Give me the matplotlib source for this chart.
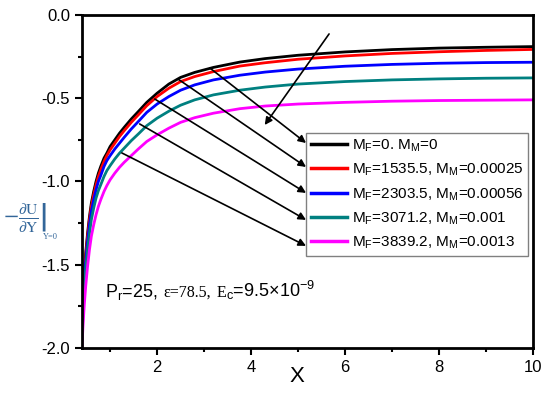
import matplotlib
matplotlib.use("Agg")
import matplotlib.pyplot as plt
from matplotlib.offsetbox import TextArea, HPacker, AnnotationBbox

plt.rcParams['font.family'] = ['Liberation Sans', 'DejaVu Sans']

x = [0.4, 0.42, 0.45, 0.48, 0.52, 0.56, 0.6, 0.65, 0.7, 0.75, 0.8, 0.87, 0.93,
     1.0, 1.1, 1.2, 1.3, 1.45, 1.6, 1.78, 2.0, 2.25, 2.5, 2.8, 3.2, 3.76, 4.3,
     5.0, 6.0, 7.0, 8.0, 9.0, 10.0]
y_black = [-1.88, -1.72, -1.55, -1.43, -1.31, -1.21, -1.13, -1.06, -1.00, -0.95,
           -0.91, -0.86, -0.83, -0.79, -0.75, -0.71, -0.675, -0.625, -0.58, -0.525,
           -0.47, -0.415, -0.375, -0.345, -0.315, -0.283, -0.262, -0.242, -0.222,
           -0.208, -0.199, -0.194, -0.19]
y_red = [-1.90, -1.74, -1.57, -1.45, -1.33, -1.23, -1.15, -1.08, -1.02, -0.97,
         -0.93, -0.88, -0.845, -0.81, -0.77, -0.73, -0.695, -0.645, -0.60, -0.545,
         -0.49, -0.44, -0.40, -0.37, -0.34, -0.307, -0.287, -0.266, -0.246,
         -0.231, -0.221, -0.213, -0.207]
y_blue = [-1.92, -1.77, -1.60, -1.48, -1.36, -1.26, -1.18, -1.11, -1.05, -1.00,
          -0.965, -0.91, -0.875, -0.845, -0.805, -0.77, -0.735, -0.685, -0.64, -0.585,
          -0.535, -0.49, -0.452, -0.42, -0.39, -0.362, -0.343, -0.325, -0.308,
          -0.297, -0.29, -0.286, -0.284]
y_teal = [-1.95, -1.81, -1.65, -1.53, -1.41, -1.31, -1.23, -1.16, -1.10, -1.055,
          -1.02, -0.97, -0.935, -0.905, -0.865, -0.83, -0.80, -0.755, -0.715, -0.665,
          -0.62, -0.578, -0.542, -0.51, -0.48, -0.452, -0.433, -0.415, -0.40,
          -0.39, -0.384, -0.38, -0.378]
y_magenta = [-2.00, -1.88, -1.74, -1.63, -1.51, -1.41, -1.33, -1.26, -1.20, -1.15,
             -1.11, -1.06, -1.025, -0.99, -0.95, -0.915, -0.885, -0.845, -0.805, -0.76,
             -0.72, -0.68, -0.645, -0.617, -0.59, -0.563, -0.547, -0.535, -0.525,
             -0.518, -0.514, -0.512, -0.51]

labels = [r'M$_\mathregular{F}$=0. M$_\mathregular{M}$=0',
          r'M$_\mathregular{F}$=1535.5, M$_\mathregular{M}$=0.00025',
          r'M$_\mathregular{F}$=2303.5, M$_\mathregular{M}$=0.00056',
          r'M$_\mathregular{F}$=3071.2, M$_\mathregular{M}$=0.001',
          r'M$_\mathregular{F}$=3839.2, M$_\mathregular{M}$=0.0013']
colors = ['#000000', '#ff0000', '#0000ff', '#008080', '#ff00ff']
series = [y_black, y_red, y_blue, y_teal, y_magenta]

fig = plt.figure(figsize=(5.5, 3.94), dpi=100)
ax = fig.add_axes([0.149, 0.117, 0.820, 0.845])

for ys, c, lab in zip(series, colors, labels):
    ax.plot(x, ys, color=c, lw=2, label=lab)

ax.set_xlim(0.4, 10)
ax.set_ylim(-2.0, 0.0)
ax.set_xticks([2, 4, 6, 8, 10])
ax.set_xticks([1, 3, 5, 7, 9], minor=True)
ax.set_yticks([-2.0, -1.5, -1.0, -0.5, 0.0])
ax.set_yticklabels(['-2.0', '-1.5', '-1.0', '-0.5', '0.0'])
ax.set_yticks([-1.75, -1.25, -0.75, -0.25], minor=True)
ax.tick_params(which='major', direction='out', length=5, width=1.5, labelsize=12)
ax.tick_params(which='minor', direction='out', length=3, width=1.5)
for s in ax.spines.values():
    s.set_linewidth(2)

fig.text(297 / 550, 1 - 377 / 394, 'X', fontsize=16, ha='center', va='center')

fig.text(25 / 550, 1 - 217 / 394,
         r'$-\left.\frac{\partial \mathrm{U}}{\partial \mathrm{Y}}\right|$',
         fontsize=16, ha='center', va='center', color='#336699', math_fontfamily='stix')
fig.text(50 / 550, 1 - 237 / 394, 'Y=0', fontsize=6, ha='center', va='center',
         color='#336699', family='Liberation Serif')

leg = ax.legend(loc='upper left', bbox_to_anchor=(0.497, 0.646), fontsize=11,
                frameon=True, fancybox=False, edgecolor='#808080', framealpha=1,
                handlelength=2.4, handletextpad=0.3, borderpad=0.3,
                labelspacing=0.5, borderaxespad=0)
leg.get_frame().set_linewidth(1.0)
for h in leg.get_lines():
    h.set_linewidth(2.5)

# arrows (annotation positions)
arrows = [((3.12, -0.318), (5.17, -0.769)),
          ((2.44, -0.384), (5.17, -0.913)),
          ((1.95, -0.505), (5.17, -1.069)),
          ((1.63, -0.655), (5.17, -1.231)),
          ((1.25, -0.829), (5.17, -1.387)),
          ((5.66, -0.114), (4.29, -0.661))]
for start, end in arrows:
    ax.annotate('', xy=end, xytext=start,
                arrowprops=dict(arrowstyle='-|>', color='k', lw=1.2,
                                mutation_scale=11, shrinkA=0, shrinkB=0))

sans = dict(fontsize=13, family='Liberation Sans')
serif = dict(fontsize=11.5, family='Liberation Serif')
t1 = TextArea(r'P$_\mathregular{r}$=25,', textprops=sans)
t2 = TextArea('ε=78.5,', textprops=serif)
t3 = TextArea('E', textprops=serif)
t4 = TextArea(r'$_\mathregular{c}$=9.5×10$^\mathregular{-9}$', textprops=sans)
inner = HPacker(children=[t3, t4], align='baseline', pad=0, sep=0)
box = HPacker(children=[t1, t2, inner], align='baseline', pad=0, sep=4)
ab = AnnotationBbox(box, (0.89, -1.724), xycoords='data', box_alignment=(0, 0),
                    frameon=False, pad=0)
ax.add_artist(ab)

fig.savefig('out.png', dpi=100)
